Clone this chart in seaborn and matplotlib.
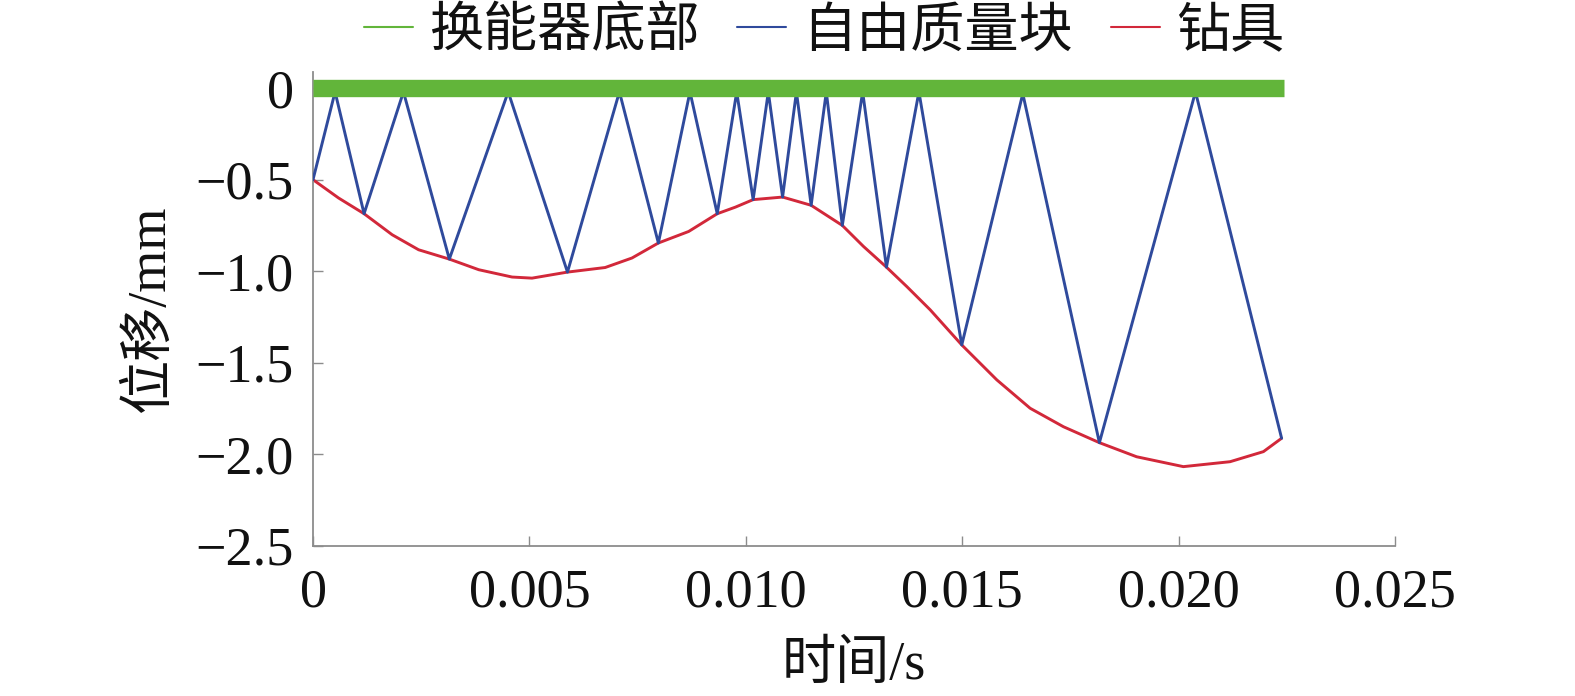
import matplotlib
matplotlib.use('Agg')
import matplotlib.pyplot as plt
from matplotlib.lines import Line2D
import seaborn as sns

# time (s) / displacement (mm)
green_t = [0, 0.02243]
green_y = [0, 0]

blue_t = [0, 0.00051, 0.00118, 0.00209, 0.00315, 0.00451, 0.00588, 0.00708, 0.00798,
          0.00871, 0.00934, 0.00979, 0.01017, 0.01052, 0.01085, 0.01117, 0.01151,
          0.01186, 0.01223, 0.01270, 0.01325, 0.01400, 0.01499, 0.01640, 0.01817,
          0.02039, 0.02238]
blue_y = [-0.50, -0.02, -0.686, -0.02, -0.934, -0.02, -1.005, -0.02, -0.846,
          -0.02, -0.686, -0.02, -0.609, -0.02, -0.595, -0.02, -0.640,
          -0.02, -0.750, -0.02, -0.978, -0.02, -1.403, -0.03, -1.937,
          -0.02, -1.913]

red_t = [0, 0.00059, 0.00118, 0.00183, 0.00244, 0.00315, 0.00383, 0.00460, 0.00506,
         0.00588, 0.00675, 0.00737, 0.00798, 0.00868, 0.00934, 0.00976, 0.01017,
         0.01085, 0.01151, 0.01223, 0.01272, 0.01325, 0.01372, 0.01426, 0.01499,
         0.01580, 0.01657, 0.01734, 0.01817, 0.01903, 0.02011, 0.02119, 0.02196,
         0.02238]
red_y = [-0.50, -0.600, -0.686, -0.801, -0.883, -0.934, -0.992, -1.032, -1.038,
         -1.005, -0.980, -0.928, -0.846, -0.783, -0.686, -0.650, -0.609,
         -0.595, -0.640, -0.750, -0.865, -0.978, -1.084, -1.211, -1.403,
         -1.594, -1.749, -1.850, -1.937, -2.014, -2.068, -2.041, -1.986,
         -1.913]

series_names = ['换能器底部', '自由质量块', '钻具']
series_colors = ['#62b53a', '#2f4a9c', '#d2283a']

x_ticks = [0, 0.005, 0.010, 0.015, 0.020, 0.025]
x_labels = ['0', '0.005', '0.010', '0.015', '0.020', '0.025']
y_ticks = [0, -0.5, -1.0, -1.5, -2.0, -2.5]
y_labels = ['0', '\u22120.5', '\u22121.0', '\u22121.5', '\u22122.0', '\u22122.5']

sns.set_style('ticks')
plt.rcParams['font.family'] = ['Liberation Serif', 'Noto Sans CJK SC']
plt.rcParams['axes.unicode_minus'] = True

fig = plt.figure(figsize=(15.75, 6.96), dpi=100)
ax = fig.add_axes([313 / 1575, 1 - 545.7 / 696, (1395 - 313) / 1575, (545.7 - 71.7) / 696])

sns.lineplot(x=red_t, y=red_y, ax=ax, color=series_colors[2], lw=2.1,
             sort=False, estimator=None, zorder=2)
sns.lineplot(x=blue_t, y=blue_y, ax=ax, color=series_colors[1], lw=2.1,
             sort=False, estimator=None, zorder=3)
sns.lineplot(x=green_t, y=green_y, ax=ax, color=series_colors[0], lw=12.5,
             sort=False, estimator=None, zorder=4, solid_capstyle='butt')

ax.set_xlim(0, 0.025)
ax.set_ylim(-2.5, 0.09)
ax.set_xticks(x_ticks, x_labels)
ax.set_yticks(y_ticks, y_labels)

for side in ['top', 'right']:
    ax.spines[side].set_visible(False)
for side in ['left', 'bottom']:
    ax.spines[side].set_color('#8c8c8c')
    ax.spines[side].set_linewidth(1.3)
ax.tick_params(direction='in', length=7, width=1, color='#8c8c8c',
               labelsize=39, labelcolor='#111111')
ax.tick_params(axis='x', pad=16)
ax.tick_params(axis='y', pad=14)

ax.set_xlabel('时间/s', fontsize=39, labelpad=16, color='#111111')
ax.set_ylabel('位移/mm', fontsize=39, labelpad=14, color='#111111')

handles = [Line2D([], [], color=c, lw=1.5) for c in series_colors]
fig.legend(handles, series_names, loc='center', bbox_to_anchor=(824 / 1575, 1 - 33 / 696),
           ncol=3, frameon=False, fontsize=39, handlelength=0.9, handletextpad=0.3,
           columnspacing=0.7, borderpad=0, labelcolor='#111111')

fig.savefig('out.png', dpi=100)
